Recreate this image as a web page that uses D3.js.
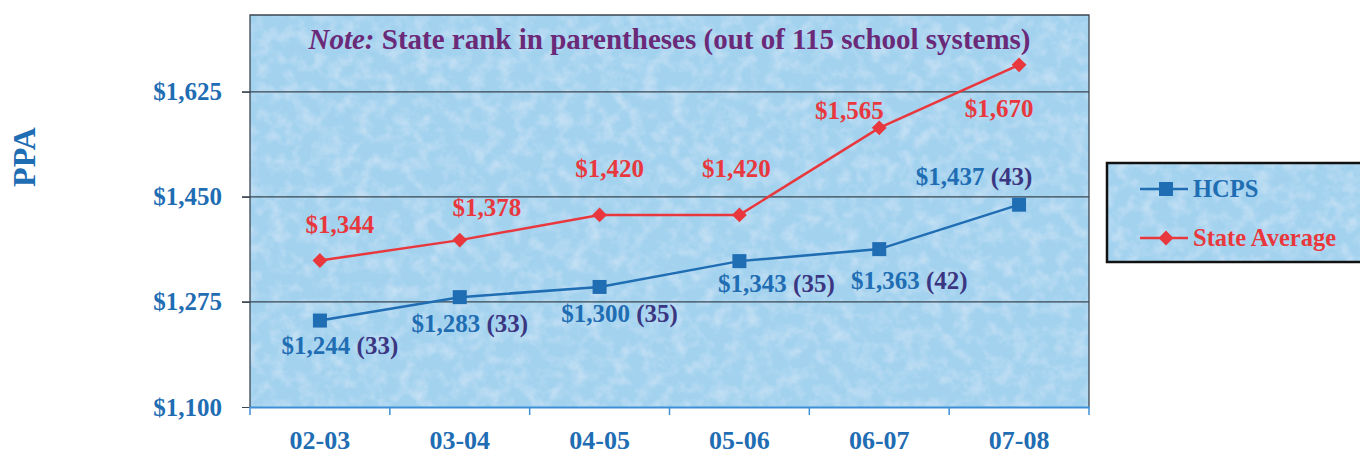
<!DOCTYPE html>
<html>
<head>
<meta charset="utf-8">
<script src="https://cdn.jsdelivr.net/npm/d3@7"></script>
<style>
  body { margin: 0; background: #fff; }
  svg { display: block; font-family: "Liberation Serif", "Times New Roman", serif; font-weight: bold; }
</style>
</head>
<body>
<svg width="1360" height="457"></svg>
<script>
var years = ["02-03", "03-04", "04-05", "05-06", "06-07", "07-08"];
var hcps = [1244, 1283, 1300, 1343, 1363, 1437];
var hcpsRank = [33, 33, 35, 35, 42, 43];
var stateAvg = [1344, 1378, 1420, 1420, 1565, 1670];
var yTicks = [1100, 1275, 1450, 1625];

// hand placed label offsets (px) like the original
var hcpsNudge = [[20, 33], [10, 35], [20, 35], [37, 31], [30, 40], [-45, -20]];
var stateNudge = [[20, -28], [27, -24], [10, -38], [-3, -38], [-30, -9], [-20, 52]];

var margin = {left: 250, right: 271, top: 15, bottom: 50};
var width = 1360, height = 457;

var svg = d3.select("svg");

var defs = svg.append("defs");
var f = defs.append("filter").attr("id", "mottle").attr("x", 0).attr("y", 0).attr("width", 1).attr("height", 1);
f.append("feTurbulence").attr("type", "fractalNoise").attr("baseFrequency", 0.07).attr("numOctaves", 3).attr("seed", 7).attr("result", "n");
f.append("feColorMatrix").attr("in", "n").attr("type", "matrix")
  .attr("values", "0 0 0 0 0.95  0 0 0 0 0.97  0 0 0 0 1  0.7 0 0 0 -0.3")
  .attr("result", "spots");
f.append("feComposite").attr("in", "spots").attr("in2", "SourceGraphic").attr("operator", "atop");

var x = d3.scaleBand().domain(years).range([margin.left, width - margin.right]);
var y = d3.scaleLinear().domain([1100, 1753]).range([height - margin.bottom, margin.top]);

var x0 = margin.left, x1 = width - margin.right;
var yb = height - margin.bottom, yt = margin.top;

// plot background
svg.append("rect").attr("x", x0).attr("y", yt).attr("width", x1 - x0).attr("height", yb - yt)
  .attr("fill", "#a3d2ef").attr("filter", "url(#mottle)");

// gridlines
svg.append("g").selectAll("line").data(yTicks.slice(1)).enter().append("line")
  .attr("x1", x0 - 8).attr("x2", x1).attr("y1", d => y(d)).attr("y2", d => y(d))
  .attr("stroke", "#3a4650").attr("stroke-width", 1.3);

// frame
svg.append("path").attr("d", "M" + x0 + "," + yb + "V" + yt + "H" + x1 + "V" + yb)
  .attr("fill", "none").attr("stroke", "#3a4650").attr("stroke-width", 1.3);

// y axis
var yAxis = svg.append("g").attr("transform", "translate(" + x0 + ",0)")
  .call(d3.axisLeft(y).tickValues(yTicks).tickSize(8).tickPadding(20).tickFormat(d => "$" + d3.format(",")(d)));
yAxis.select(".domain").remove();
yAxis.selectAll("line").attr("stroke", "#3a4650");
yAxis.selectAll("text").attr("fill", "#1f6db3").style("font-size", "25px").style("font-family", "Liberation Serif").style("font-weight", "bold");

// x axis
var xAxis = svg.append("g").attr("transform", "translate(0," + yb + ")")
  .call(d3.axisBottom(x).tickSizeInner(0).tickSizeOuter(0).tickPadding(24));
xAxis.select(".domain").attr("stroke", "#3d8fd6").attr("stroke-width", 2);
xAxis.selectAll("text").attr("fill", "#1f6db3").style("font-size", "26px").style("font-family", "Liberation Serif").style("font-weight", "bold");
svg.append("g").selectAll("line").data(years.concat(["end"])).enter().append("line")
  .attr("x1", (d, i) => i < years.length ? x(d) : x1).attr("x2", (d, i) => i < years.length ? x(d) : x1)
  .attr("y1", yb).attr("y2", yb + 8).attr("stroke", "#3d8fd6").attr("stroke-width", 1.5);

// PPA
svg.append("text").attr("transform", "translate(35,157) rotate(-90)").attr("text-anchor", "middle")
  .attr("fill", "#1f6db3").style("font-size", "32px").text("PPA");

// note
var note = svg.append("text").attr("x", (x0 + x1) / 2).attr("y", 49).attr("text-anchor", "middle")
  .attr("fill", "#6b2a78").style("font-size", "29px");
note.append("tspan").style("font-style", "italic").text("Note:");
note.append("tspan").text(" State rank in parentheses (out of 115 school systems)");

var cx = d => x(d) + x.bandwidth() / 2;
var line = d3.line().x((d, i) => cx(years[i])).y(d => y(d));

// state average
svg.append("path").datum(stateAvg).attr("d", line).attr("fill", "none").attr("stroke", "#e8383d").attr("stroke-width", 2.5);
svg.append("g").selectAll("path").data(stateAvg).enter().append("path")
  .attr("d", d3.symbol(d3.symbolSquare, 110))
  .attr("transform", (d, i) => "translate(" + cx(years[i]) + "," + y(d) + ") rotate(45)")
  .attr("fill", "#e8383d");

// hcps
svg.append("path").datum(hcps).attr("d", line).attr("fill", "none").attr("stroke", "#1f6db3").attr("stroke-width", 2.5);
svg.append("g").selectAll("rect").data(hcps).enter().append("rect")
  .attr("x", (d, i) => cx(years[i]) - 7).attr("y", d => y(d) - 7).attr("width", 14).attr("height", 14)
  .attr("fill", "#1f6db3");

// labels
svg.append("g").selectAll("text").data(stateAvg).enter().append("text")
  .attr("x", (d, i) => cx(years[i]) + stateNudge[i][0]).attr("y", (d, i) => y(d) + stateNudge[i][1])
  .attr("text-anchor", "middle").attr("fill", "#e8383d").style("font-size", "25px")
  .text(d => "$" + d3.format(",")(d));

var hl = svg.append("g").selectAll("text").data(hcps).enter().append("text")
  .attr("x", (d, i) => cx(years[i]) + hcpsNudge[i][0]).attr("y", (d, i) => y(d) + hcpsNudge[i][1])
  .attr("text-anchor", "middle").style("font-size", "25px");
hl.append("tspan").attr("fill", "#1f6db3").text(d => "$" + d3.format(",")(d) + " ");
hl.append("tspan").attr("fill", "#3b3682").text((d, i) => "(" + hcpsRank[i] + ")");

// legend
var lg = svg.append("g");
lg.append("rect").attr("x", 1107).attr("y", 163).attr("width", 262).attr("height", 99)
  .attr("fill", "#a3d2ef").attr("filter", "url(#mottle)");
lg.append("rect").attr("x", 1107).attr("y", 163).attr("width", 262).attr("height", 99)
  .attr("fill", "none").attr("stroke", "#111").attr("stroke-width", 2.5);
var items = [{name: "HCPS", color: "#1f6db3", sym: "sq"}, {name: "State Average", color: "#e8383d", sym: "di"}];
items.forEach(function(it, i) {
  var yy = 189 + i * 49;
  lg.append("line").attr("x1", 1140).attr("x2", 1188).attr("y1", yy).attr("y2", yy).attr("stroke", it.color).attr("stroke-width", 2.5);
  if (it.sym == "sq") {
    lg.append("rect").attr("x", 1159).attr("y", yy - 7).attr("width", 14).attr("height", 14).attr("fill", it.color);
  } else {
    lg.append("path").attr("d", d3.symbol(d3.symbolSquare, 110)).attr("transform", "translate(1166," + yy + ") rotate(45)").attr("fill", it.color);
  }
  lg.append("text").attr("x", 1193).attr("y", yy + 8).attr("fill", it.color).style("font-size", "24.5px").text(it.name);
});
</script>
</body>
</html>
